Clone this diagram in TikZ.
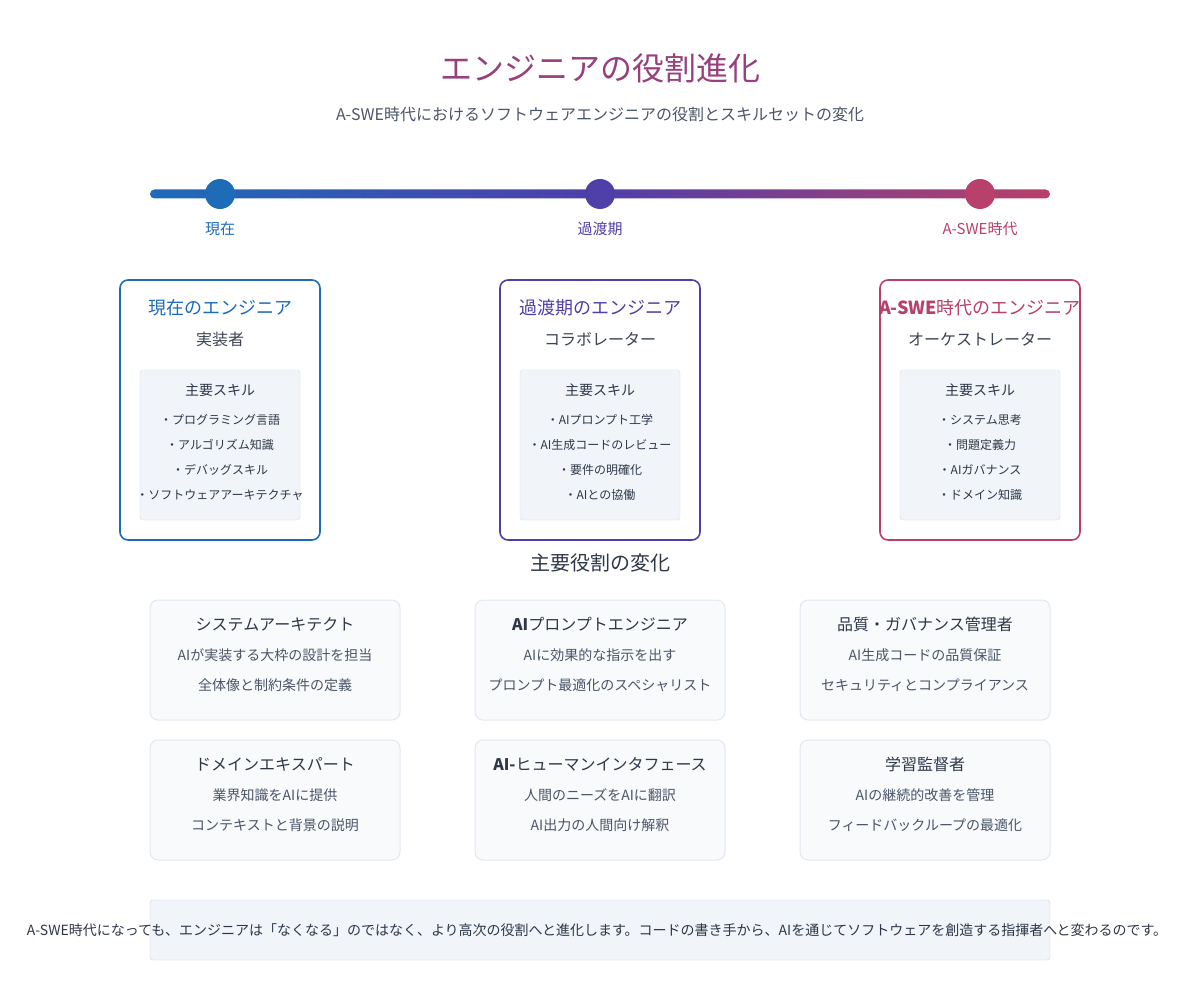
\documentclass[tikz,border=0pt]{standalone}
\usepackage{fontspec}
\setmainfont{Noto Sans CJK JP}
\definecolor{cblue}{HTML}{1E6BB8}
\definecolor{cpurp}{HTML}{4F3FA8}
\definecolor{cred}{HTML}{B8406A}
\definecolor{ctext}{HTML}{2D3748}
\definecolor{csub}{HTML}{4A5568}
\definecolor{cfill}{HTML}{F8FAFC}
\definecolor{cline}{HTML}{E2E8F0}
\definecolor{cinner}{HTML}{F1F4F8}
\begin{document}
\begin{tikzpicture}[x=1pt,y=-1pt,
  t/.style={inner sep=0pt,anchor=center,text=ctext},
  eng/.style={draw=#1,line width=1.6pt,rounded corners=8pt,fill=white},
  inner/.style={draw=cline!90!gray,fill=cinner,rounded corners=3pt},
  card/.style={draw=cline,line width=1pt,fill=cfill,rounded corners=8pt},
  dot/.style={circle,fill=#1,minimum size=30pt,inner sep=0pt}]
\useasboundingbox (0,0) rectangle (1200,1000);
\node[t,text=cred!70!cpurp,font=\fontsize{32}{36}\selectfont] (title) at (600,68) {エンジニアの役割進化};
\node[t,text=csub,font=\fontsize{16}{18}\selectfont] (sub) at (600,114) {A-SWE時代におけるソフトウェアエンジニアの役割とスキルセットの変化};
\shade[left color=cblue,right color=cred,middle color=cpurp,rounded corners=4.5pt] (150,189.5) rectangle (1050,198.5);
\node[dot=cblue] (d1) at (220,194) {};
\node[dot=cpurp] (d2) at (600,194) {};
\node[dot=cred] (d3) at (980,194) {};
\node[t,text=cblue,font=\fontsize{15}{18}\selectfont] (l1) at (220,229) {現在};
\node[t,text=cpurp,font=\fontsize{15}{18}\selectfont] (l2) at (600,229) {過渡期};
\node[t,text=cred,font=\fontsize{15}{18}\selectfont] (l3) at (980,229) {A-SWE時代};
\foreach \cx/\col/\ti/\su/\a/\b/\c/\d/\n in {
 220/cblue/現在のエンジニア/実装者/・プログラミング言語/・アルゴリズム知識/・デバッグスキル/・ソフトウェアアーキテクチャ/e1,
 600/cpurp/過渡期のエンジニア/コラボレーター/・AIプロンプト工学/・AI生成コードのレビュー/・要件の明確化/・AIとの協働/e2,
 980/cred/{\textbf{A-SWE}時代のエンジニア}/オーケストレーター/・システム思考/・問題定義力/・AIガバナンス/・ドメイン知識/e3}{
 \draw[eng=\col] (\cx-100,280) rectangle (\cx+100,540);
 \node[t,text=\col,font=\fontsize{18}{20}\selectfont] (\n t) at (\cx,308) {\ti};
 \node[t,text=csub!80!black,font=\fontsize{16}{18}\selectfont] (\n s) at (\cx,339) {\su};
 \draw[inner] (\cx-80,370) rectangle (\cx+80,520);
 \node[t,font=\fontsize{14}{16}\selectfont] (\n k) at (\cx,390) {主要スキル};
 \node[t,font=\fontsize{12}{14}\selectfont] (\n a) at (\cx,420) {\a};
 \node[t,font=\fontsize{12}{14}\selectfont] (\n b) at (\cx,445) {\b};
 \node[t,font=\fontsize{12}{14}\selectfont] (\n c) at (\cx,470) {\c};
 \node[t,font=\fontsize{12}{14}\selectfont] (\n d) at (\cx,495) {\d};
}
\node[t,font=\fontsize{20}{22}\selectfont] (roles) at (600,563) {主要役割の変化};
\foreach \cx/\cy/\ti/\a/\b/\n in {
 275/600/システムアーキテクト/AIが実装する大枠の設計を担当/全体像と制約条件の定義/r1,
 600/600/{\textbf{AI}プロンプトエンジニア}/AIに効果的な指示を出す/プロンプト最適化のスペシャリスト/r2,
 925/600/品質・ガバナンス管理者/AI生成コードの品質保証/セキュリティとコンプライアンス/r3,
 275/740/ドメインエキスパート/業界知識をAIに提供/コンテキストと背景の説明/r4,
 600/740/{\textbf{AI-}ヒューマンインタフェース}/人間のニーズをAIに翻訳/AI出力の人間向け解釈/r5,
 925/740/学習監督者/AIの継続的改善を管理/フィードバックループの最適化/r6}{
 \draw[card] (\cx-125,\cy) rectangle (\cx+125,\cy+120);
 \node[t,font=\fontsize{16}{18}\selectfont] (\n t) at (\cx,\cy+24) {\ti};
 \node[t,text=csub,font=\fontsize{14}{16}\selectfont] (\n a) at (\cx,\cy+55) {\a};
 \node[t,text=csub,font=\fontsize{14}{16}\selectfont] (\n b) at (\cx,\cy+85) {\b};
}
\draw[draw=cline!80!gray,fill=cinner,rounded corners=3pt] (150,900) rectangle (1050,960);
\node[t,font=\fontsize{14}{16}\selectfont] (foot) at (597,930) {A-SWE時代になっても、エンジニアは「なくなる」のではなく、より高次の役割へと進化します。コードの書き手から、AIを通じてソフトウェアを創造する指揮者へと変わるのです。};
\end{tikzpicture}
\end{document}
